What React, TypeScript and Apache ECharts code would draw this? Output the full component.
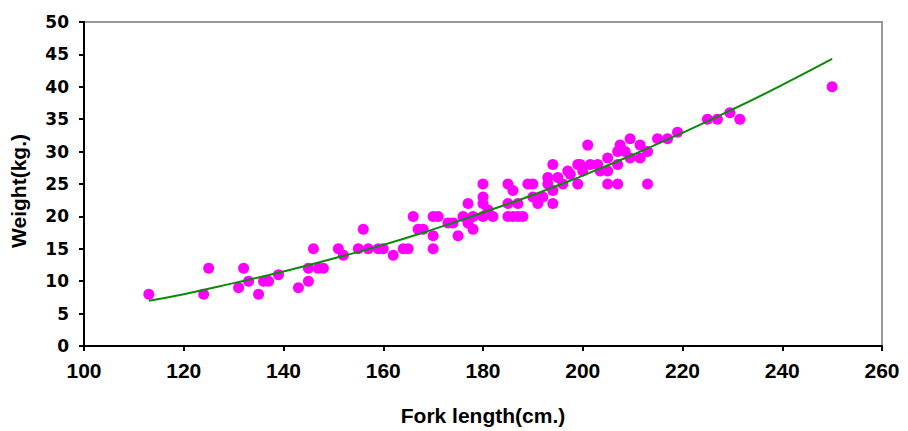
import React, { useEffect, useRef } from "react";
import * as echarts from "echarts";

const xTicks = { min: 100, max: 260, interval: 20 };
const yTicks = { min: 0, max: 50, interval: 5 };

const forkLength: number[] = [
  113, 124, 125, 131, 132, 133, 135, 136, 137, 139, 143, 145, 145, 146, 147, 148,
  151, 152, 155, 156, 157, 159, 160, 162, 164, 165, 166, 167, 168, 170, 171, 170,
  170, 173, 174, 175, 176, 177, 177, 178, 178, 180, 180, 180, 180, 181, 182, 185,
  185, 186, 185, 186, 187, 188, 187, 189, 190, 190, 191, 192, 193, 193, 194, 194,
  194, 195, 196, 197, 197.5, 199, 199.5, 199, 200, 201, 201.5, 203, 203.5, 205, 205,
  205, 207, 207, 207, 207.5, 208.5, 209.5, 209.5, 211.5, 211.5, 213, 213, 215, 217,
  219, 225, 227, 229.5, 231.5, 250,
];
const weight: number[] = [
  8, 8, 12, 9, 12, 10, 8, 10, 10, 11, 9, 10, 12, 15, 12, 12,
  15, 14, 15, 18, 15, 15, 15, 14, 15, 15, 20, 18, 18, 20, 20, 17,
  15, 19, 19, 17, 20, 22, 19, 20, 18, 25, 23, 22, 20, 21, 20, 25,
  22, 24, 20, 20, 20, 20, 22, 25, 25, 23, 22, 23, 26, 25, 28, 24,
  22, 26, 25, 27, 26.5, 28, 28, 25, 27, 31, 28, 28, 27, 29, 25,
  27, 25, 30, 28, 31, 30, 32, 29, 31, 29, 25, 30, 32, 32,
  33, 35, 35, 36, 35, 40,
];

const curveLength: number[] = [113, 120, 130, 140, 150, 160, 170, 180, 190, 200, 210, 220, 230, 240, 250];
const curveWeight: number[] = [7.0, 8.0, 9.7, 11.5, 13.5, 15.6, 18.0, 20.6, 23.3, 26.3, 29.5, 32.9, 36.5, 40.3, 44.3];

const xName = "Fork length(cm.)";
const yName = "Weight(kg.)";

export default function App() {
  const ref = useRef<HTMLDivElement>(null);
  useEffect(() => {
    if (!ref.current) return;
    const chart = echarts.init(ref.current, undefined, { renderer: "svg" });
    const scatterData = forkLength.map((x, i) => [x, weight[i]]);
    const curveData = curveLength.map((x, i) => [x, curveWeight[i]]);
    chart.setOption({
      animation: false,
      backgroundColor: "#ffffff",
      grid: {
        left: 84,
        right: 26,
        top: 22,
        bottom: 85,
        show: true,
        borderColor: "#999999",
        borderWidth: 2,
      },
      xAxis: {
        type: "value",
        min: xTicks.min,
        max: xTicks.max,
        interval: xTicks.interval,
        name: xName,
        nameLocation: "middle",
        nameGap: 59,
        nameTextStyle: {
          fontFamily: "Liberation Sans",
          fontWeight: "bold",
          fontSize: 21,
          color: "#000",
        },
        axisLine: { show: true, onZero: false, lineStyle: { color: "#000", width: 2 } },
        axisTick: { show: true, inside: false, length: 5, lineStyle: { color: "#000", width: 2 } },
        axisLabel: {
          margin: 14,
          fontFamily: "Liberation Sans",
          fontWeight: "bold",
          fontSize: 21,
          color: "#000",
        },
        splitLine: { show: false },
      },
      yAxis: {
        type: "value",
        min: yTicks.min,
        max: yTicks.max,
        interval: yTicks.interval,
        name: yName,
        nameLocation: "middle",
        nameGap: 55,
        nameRotate: 90,
        nameTextStyle: {
          fontFamily: "Liberation Sans",
          fontWeight: "bold",
          fontSize: 21,
          color: "#000",
          padding: [0, 14, 0, 0],
        },
        axisLine: { show: true, onZero: false, lineStyle: { color: "#000", width: 2 } },
        axisTick: { show: true, inside: false, length: 5, lineStyle: { color: "#000", width: 2 } },
        axisLabel: {
          margin: 15,
          fontFamily: "DejaVu Sans",
          fontWeight: "bold",
          fontSize: 17,
          color: "#000",
          padding: [5, 0, 0, 0],
        },
        splitLine: { show: false },
      },
      series: [
        {
          type: "scatter",
          data: scatterData,
          symbol: "circle",
          symbolSize: 11,
          itemStyle: { color: "#FF00FF", opacity: 1 },
          z: 2,
        },
        {
          type: "line",
          data: curveData,
          smooth: true,
          showSymbol: false,
          symbol: "none",
          lineStyle: { color: "#0A8A0A", width: 2 },
          z: 3,
        },
      ],
    });
    return () => chart.dispose();
  }, []);
  return (
    <div
      ref={ref}
      style={{ position: "fixed", left: 0, top: 0, width: 908, height: 431 }}
    />
  );
}
